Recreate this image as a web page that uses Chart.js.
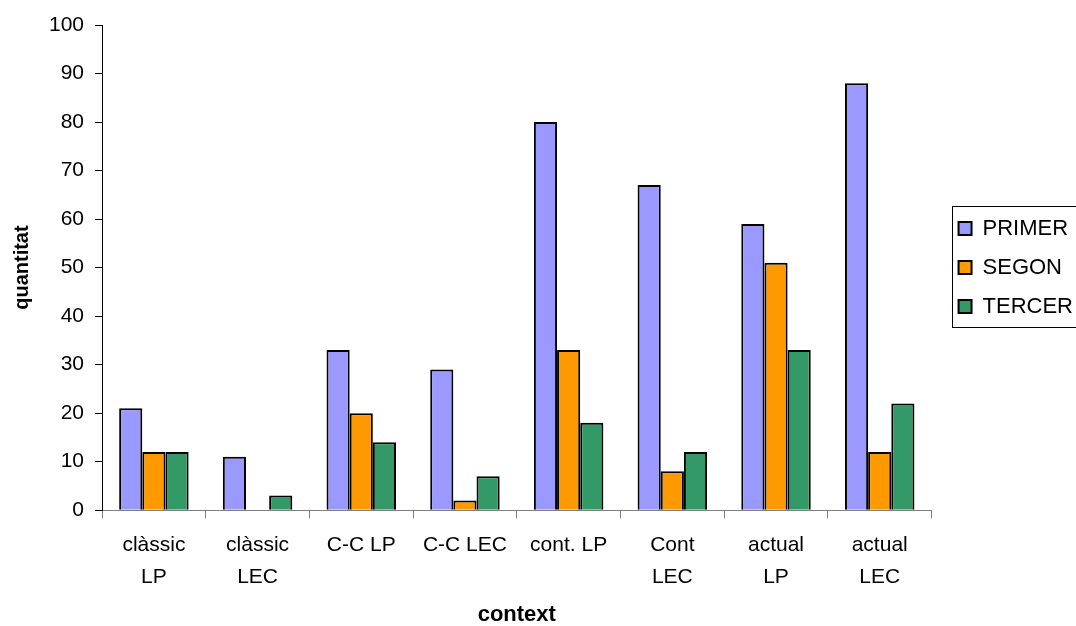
<!DOCTYPE html>
<html>
<head>
<meta charset="utf-8">
<script src="https://cdn.jsdelivr.net/npm/chart.js@4/dist/chart.umd.min.js"></script>
<style>
  html, body { margin: 0; padding: 0; background: #fff; }
  #wrap { width: 1076px; height: 626px; }
</style>
</head>
<body>
<div id="wrap"><canvas id="barChart" width="1076" height="626"></canvas></div>
<script>
// dades del gràfic //
const categories = [["clàssic", "LP"], ["clàssic", "LEC"], "C-C LP", "C-C LEC", "cont. LP", ["Cont", "LEC"], ["actual", "LP"], ["actual", "LEC"]];
const primer = [21, 11, 33, 29, 80, 67, 59, 88];
const segon = [12, 0, 20, 2, 33, 8, 51, 12];
const tercer = [12, 3, 14, 7, 18, 12, 33, 22];
const yTicks = [0, 10, 20, 30, 40, 50, 60, 70, 80, 90, 100];

const fontFamily = "'Liberation Sans', Arial, sans-serif";
const legendPad = 17;

// llegenda una mica més a la dreta i amb marc
const legendBorder = {
  id: 'legendBorder',
  beforeDraw(chart) {
    const lg = chart.legend;
    if (!lg) return;
    lg.left = chart.chartArea.right + 10;
    lg.right = lg.left + lg.width;
  },
  afterDraw(chart) {
    const lg = chart.legend;
    if (!lg || !lg.legendHitBoxes.length) return;
    const boxes = lg.legendHitBoxes;
    let t = Infinity, b = -Infinity;
    boxes.forEach(h => {
      t = Math.min(t, h.top);
      b = Math.max(b, h.top + h.height);
    });
    const l = lg.left + legendPad - 7;
    const c = chart.ctx;
    c.save();
    c.strokeStyle = '#000';
    c.lineWidth = 1;
    c.strokeRect(Math.round(l) + 0.5, Math.round(t - 12) + 0.5, chart.width + 5 - Math.round(l), Math.round(b - t + 21));
    c.restore();
  }
};

var ctx = document.getElementById("barChart").getContext('2d');

var myChart = new Chart(ctx, {
  type: 'bar',
  data: {
    labels: categories,
    datasets: [{
      label: "PRIMER",
      backgroundColor: "#9999FF",
      borderColor: "#000",
      borderWidth: 2,
      data: primer
    }, {
      label: "SEGON",
      backgroundColor: "#FF9900",
      borderColor: "#000",
      borderWidth: 2,
      data: segon
    }, {
      label: "TERCER",
      backgroundColor: "#339966",
      borderColor: "#000",
      borderWidth: 2,
      data: tercer
    }]
  },
  options: {
    responsive: false,
    animation: false,
    datasets: {
      bar: {
        categoryPercentage: 0.67,
        barPercentage: 1.0
      }
    },
    layout: {
      padding: { top: 25, left: 10, right: 3, bottom: 0 }
    },
    scales: {
      x: {
        grid: {
          display: true,
          drawOnChartArea: false,
          drawTicks: true,
          tickLength: 8,
          color: '#808080',
          offset: true
        },
        border: { color: '#808080', width: 1 },
        ticks: {
          color: '#000',
          font: { family: fontFamily, size: 21, lineHeight: 1.52 },
          maxRotation: 0,
          autoSkip: false,
          padding: 11
        },
        title: {
          display: true,
          text: 'context',
          color: '#000',
          font: { family: fontFamily, size: 22, weight: 'bold', lineHeight: 1 },
          padding: { top: 0, bottom: 0 }
        }
      },
      y: {
        min: 0,
        max: 100,
        afterBuildTicks: function(axis) {
          axis.ticks = yTicks.map(v => ({ value: v }));
        },
        grid: {
          display: true,
          drawOnChartArea: false,
          drawTicks: true,
          tickLength: 7,
          color: '#000'
        },
        border: { color: '#000', width: 1 },
        ticks: {
          color: '#000',
          font: { family: fontFamily, size: 21 },
          padding: 11
        },
        title: {
          display: true,
          text: 'quantitat',
          color: '#000',
          font: { family: fontFamily, size: 20, weight: 'bold', lineHeight: 1.2 },
          padding: { top: 0, bottom: 4 }
        }
      }
    },
    plugins: {
      legend: {
        display: true,
        position: 'right',
        fullSize: false,
        labels: {
          boxWidth: 13,
          boxHeight: 13,
          padding: legendPad,
          color: '#000',
          font: { family: fontFamily, size: 22 }
        }
      },
      tooltip: { enabled: false }
    }
  },
  plugins: [legendBorder]
});
</script>
</body>
</html>
